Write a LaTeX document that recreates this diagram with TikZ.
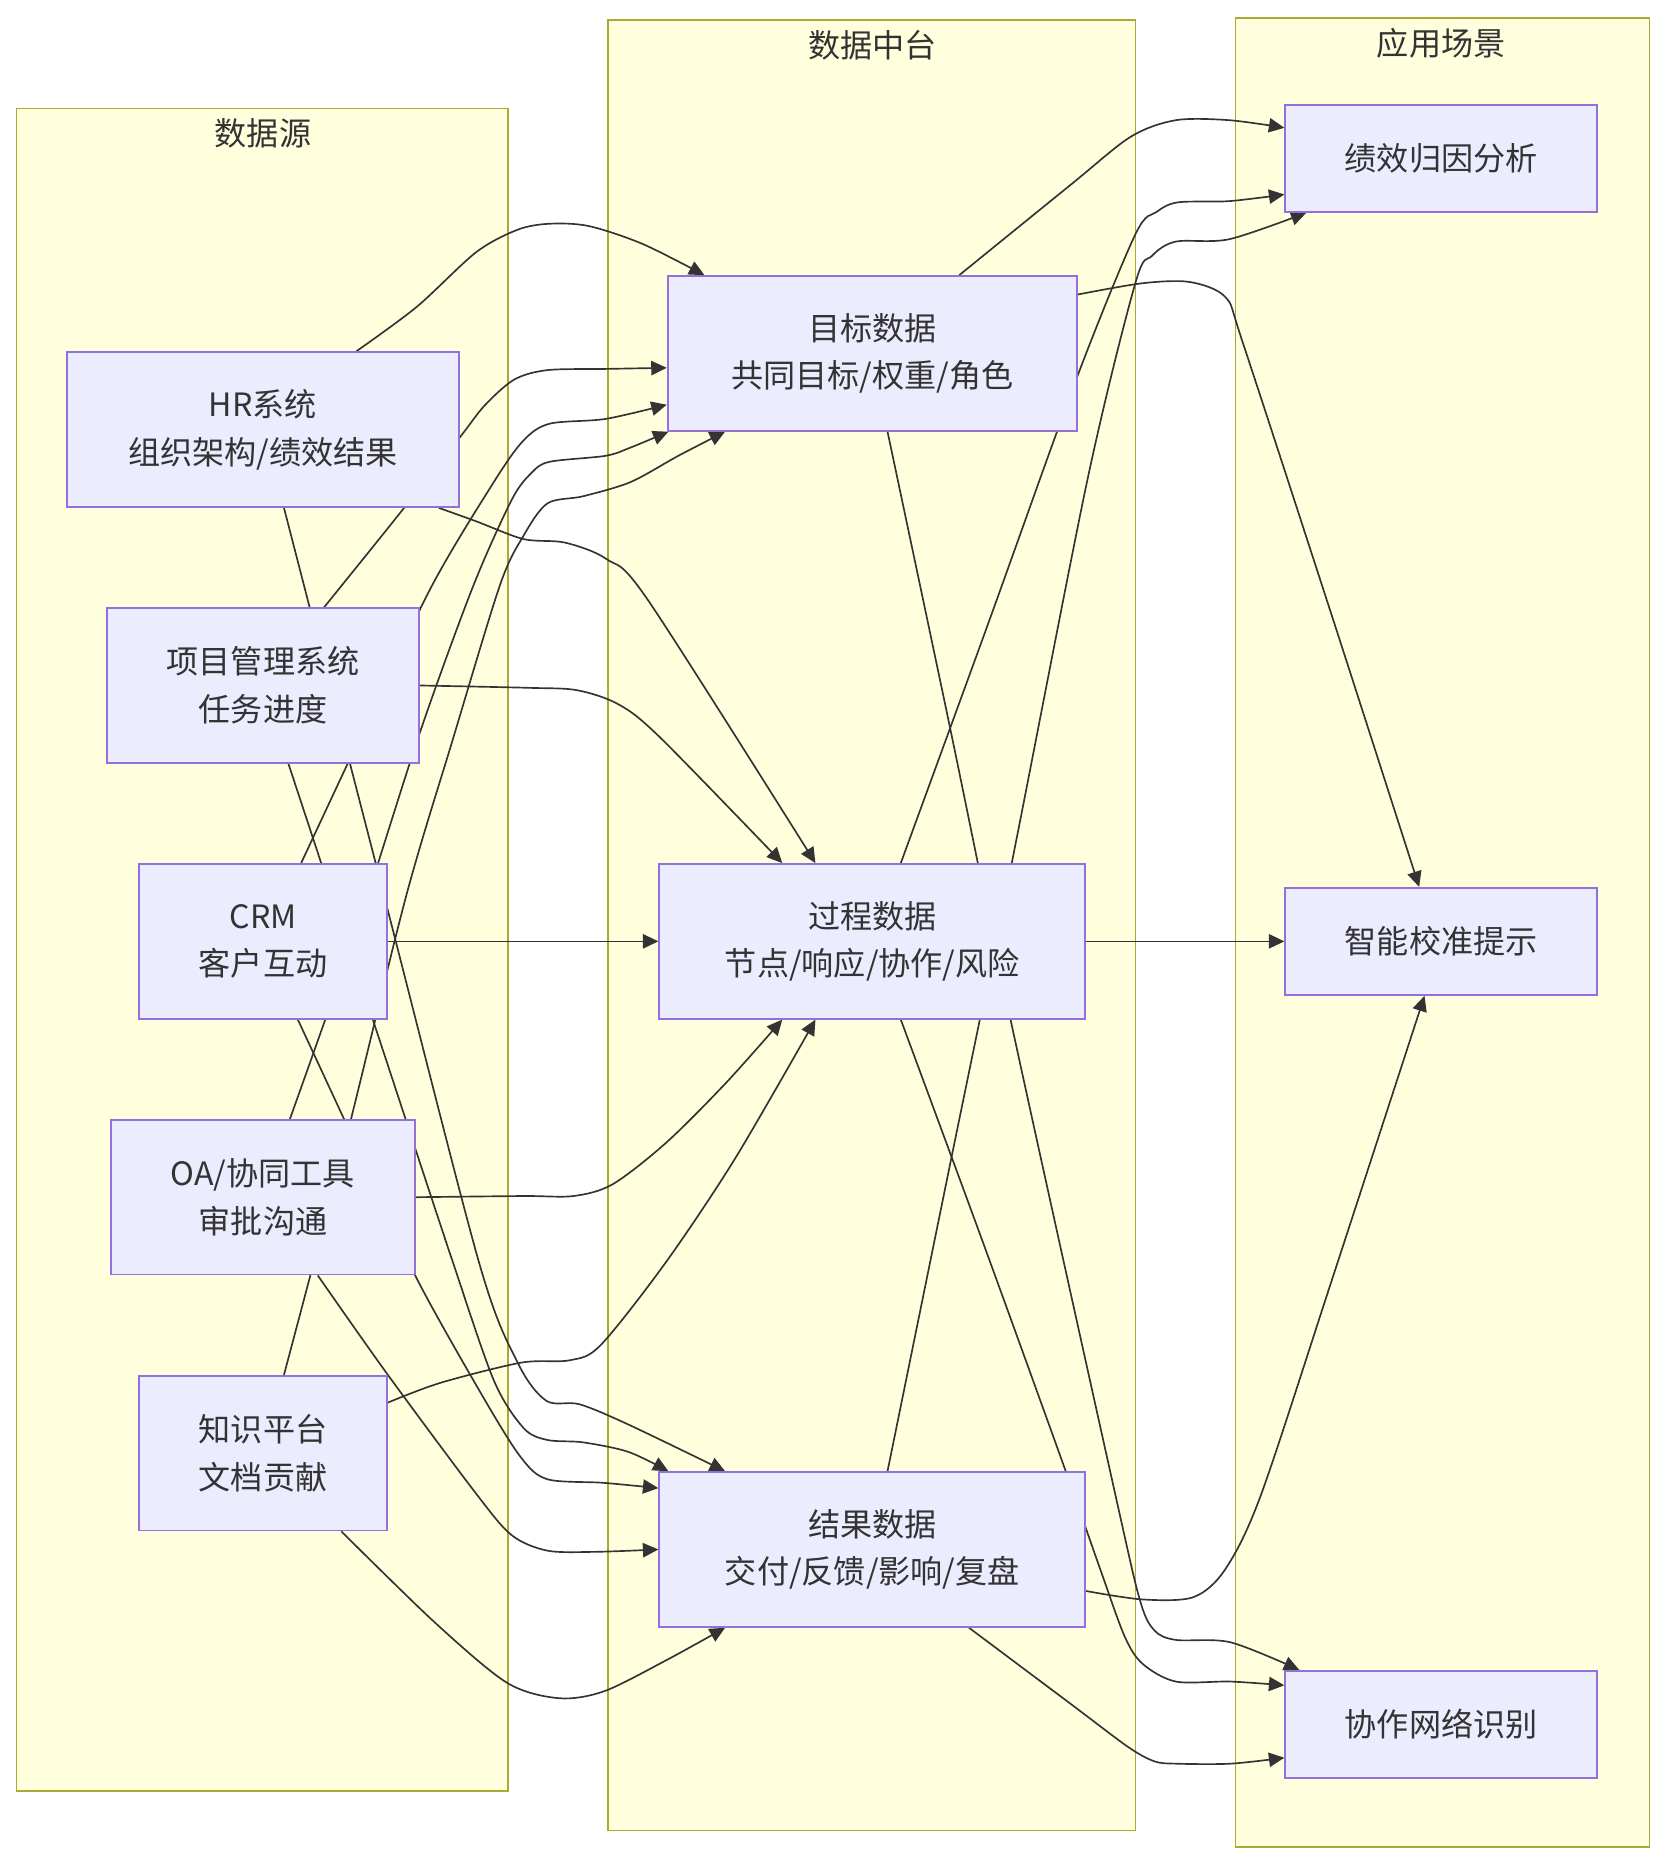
\documentclass[tikz,border=0pt]{standalone}
\usepackage{fontspec}
\setmainfont{Noto Sans CJK SC}
\usetikzlibrary{arrows.meta}

\definecolor{boxfill}{HTML}{ECECFF}
\definecolor{boxline}{HTML}{9370DB}
\definecolor{laneyellow}{HTML}{FFFFDE}
\definecolor{laneline}{HTML}{AAAA33}
\definecolor{inkgray}{HTML}{333333}

\pgfdeclarelayer{lanes}
\pgfdeclarelayer{links}
\pgfsetlayers{lanes,links,main}

\begin{document}
\begin{tikzpicture}[x=1pt,y=-1pt,
    every node/.style={text=inkgray,font=\fontsize{27}{40}\selectfont},
    box/.style={draw=boxline,fill=boxfill,line width=1.5pt,align=center,
        inner sep=0pt,minimum height=130pt},
    appbox/.style={box,minimum width=262pt,minimum height=90pt},
    lane/.style={draw=laneline,fill=laneyellow,line width=1.3pt},
    link/.style={draw=inkgray,line width=1.4pt,-{Triangle[length=13pt,width=12pt]}}]
    \useasboundingbox (0,0) rectangle (1397,1568);

    % lanes
    \begin{pgfonlayer}{lanes}
        \draw[lane] (14,91) rectangle (427,1505);
        \draw[lane] (511,17) rectangle (954,1538);
        \draw[lane] (1038,15) rectangle (1386,1552);
    \end{pgfonlayer}
    \node (srctitle) at (221,112) {数据源};
    \node (hubtitle) at (733,38) {数据中台};
    \node (apptitle) at (1211,36) {应用场景};

    % sources
    \node[box,minimum width=330pt] (hr)  at (221,361)  {HR系统\\组织架构/绩效结果};
    \node[box,minimum width=262pt] (pm)  at (221,576)  {项目管理系统\\任务进度};
    \node[box,minimum width=208pt] (crm) at (221,791)  {CRM\\客户互动};
    \node[box,minimum width=256pt] (oa)  at (221,1006) {OA/协同工具\\审批沟通};
    \node[box,minimum width=208pt] (kb)  at (221,1221) {知识平台\\文档贡献};

    % data hub
    \node[box,minimum width=344pt] (tgt) at (733,297)  {目标数据\\共同目标/权重/角色};
    \node[box,minimum width=358pt] (prc) at (733,791)  {过程数据\\节点/响应/协作/风险};
    \node[box,minimum width=358pt] (res) at (733,1302) {结果数据\\交付/反馈/影响/复盘};

    % scenarios
    \node[appbox] (perf)  at (1211,133)  {绩效归因分析};
    \node[appbox] (calib) at (1211,791)  {智能校准提示};
    \node[appbox] (coll)  at (1211,1449) {协作网络识别};

    \begin{pgfonlayer}{links}
        % sources -> target data
        \draw[link] plot[smooth,tension=0.5] coordinates {(hr.40) (350,258) (400,212) (435,193) (462,188) (495,190) (540,205) (tgt.155)};
        \draw[link] plot[smooth,tension=0.5] coordinates {(pm.52) (329,440) (386,368) (407,341) (432,319) (460,311) (509,310) (tgt.184)};
        \draw[link] plot[smooth,tension=0.5] coordinates {(crm.64) (300,625) (362,494) (415,405) (440,370) (462,356) (509,352) (tgt.194)};
        \draw[link] plot[smooth,tension=0.5] coordinates {(oa.71) (300,780) (352,618) (397,494) (430,420) (447,397) (462,388) (509,383) (530,376) (tgt.201)};
        \draw[link] plot[smooth,tension=0.5] coordinates {(kb.75) (290,960) (341,754) (380,623) (420,492) (440,450) (460,423) (490,417) (530,405) (570,383) (tgt.208)};

        % sources -> process data
        \draw[link] plot[smooth,tension=0.5] coordinates {(hr.336) (400,438) (440,453) (475,456) (510,470) (545,505) (prc.126)};
        \draw[link] plot[smooth,tension=0.5] coordinates {(pm.east) (445,578) (485,580) (520,592) (555,620) (prc.139)};
        \draw[link] (crm.east) -- (prc.west);
        \draw[link] plot[smooth,tension=0.5] coordinates {(oa.east) (440,1005) (482,1005) (515,995) (560,960) (610,910) (prc.221)};
        \draw[link] plot[smooth,tension=0.5] coordinates {(kb.22) (370,1162) (438,1145) (479,1143) (505,1130) (560,1060) (618,973) (prc.234)};

        % sources -> result data
        \draw[link] plot[smooth,tension=0.5] coordinates {(hr.285) (320,742) (402,1059) (435,1145) (459,1177) (487,1180) (528,1197) (res.152)};
        \draw[link] plot[smooth,tension=0.5] coordinates {(pm.288) (317,868) (380,1059) (415,1160) (440,1200) (460,1210) (490,1212) (528,1220) (res.159)};
        \draw[link] plot[smooth,tension=0.5] coordinates {(crm.294) (300,964) (349,1072) (406,1174) (438,1225) (460,1243) (507,1246) (res.164)};
        \draw[link] plot[smooth,tension=0.5] coordinates {(oa.305) (325,1154) (400,1255) (430,1290) (460,1303) (500,1304) (res.west)};
        \draw[link] plot[smooth,tension=0.5] coordinates {(kb.315) (365,1363) (426,1414) (470,1427) (508,1421) (560,1395) (res.208)};

        % data hub -> scenarios
        \draw[link] plot[smooth,tension=0.5] coordinates {(tgt.42) (900,155) (950,115) (988,101) (1033,101) (perf.169)};
        \draw[link] plot[smooth,tension=0.5] coordinates {(prc.70) (830,525) (905,317) (954,197) (972,178) (990,170) (1033,169) (perf.193)};
        \draw[link] plot[smooth,tension=0.5] coordinates {(res.79) (798,980) (850,726) (914,402) (954,238) (968,215) (988,203) (1033,201) (perf.202)};
        \draw[link] plot[smooth,tension=0.5] coordinates {(tgt.16) (960,238) (1000,237) (1030,250) (1045,290) (1120,520) (calib.112)};
        \draw[link] (prc.east) -- (calib.west);
        \draw[link] plot[smooth,tension=0.5] coordinates {(res.349) (960,1344) (1003,1342) (1030,1318) (1060,1255) (1120,1073) (calib.253)};
        \draw[link] plot[smooth,tension=0.5] coordinates {(tgt.281) (798,610) (849,856) (937,1255) (958,1345) (970,1370) (988,1378) (1034,1380) (coll.159)};
        \draw[link] plot[smooth,tension=0.5] coordinates {(prc.290) (826,1044) (894,1232) (925,1320) (945,1375) (960,1398) (988,1413) (1034,1413) (coll.166)};
        \draw[link] plot[smooth,tension=0.5] coordinates {(res.321) (900,1432) (948,1468) (970,1480) (988,1482) (1034,1482) (coll.192)};
    \end{pgfonlayer}
\end{tikzpicture}
\end{document}
